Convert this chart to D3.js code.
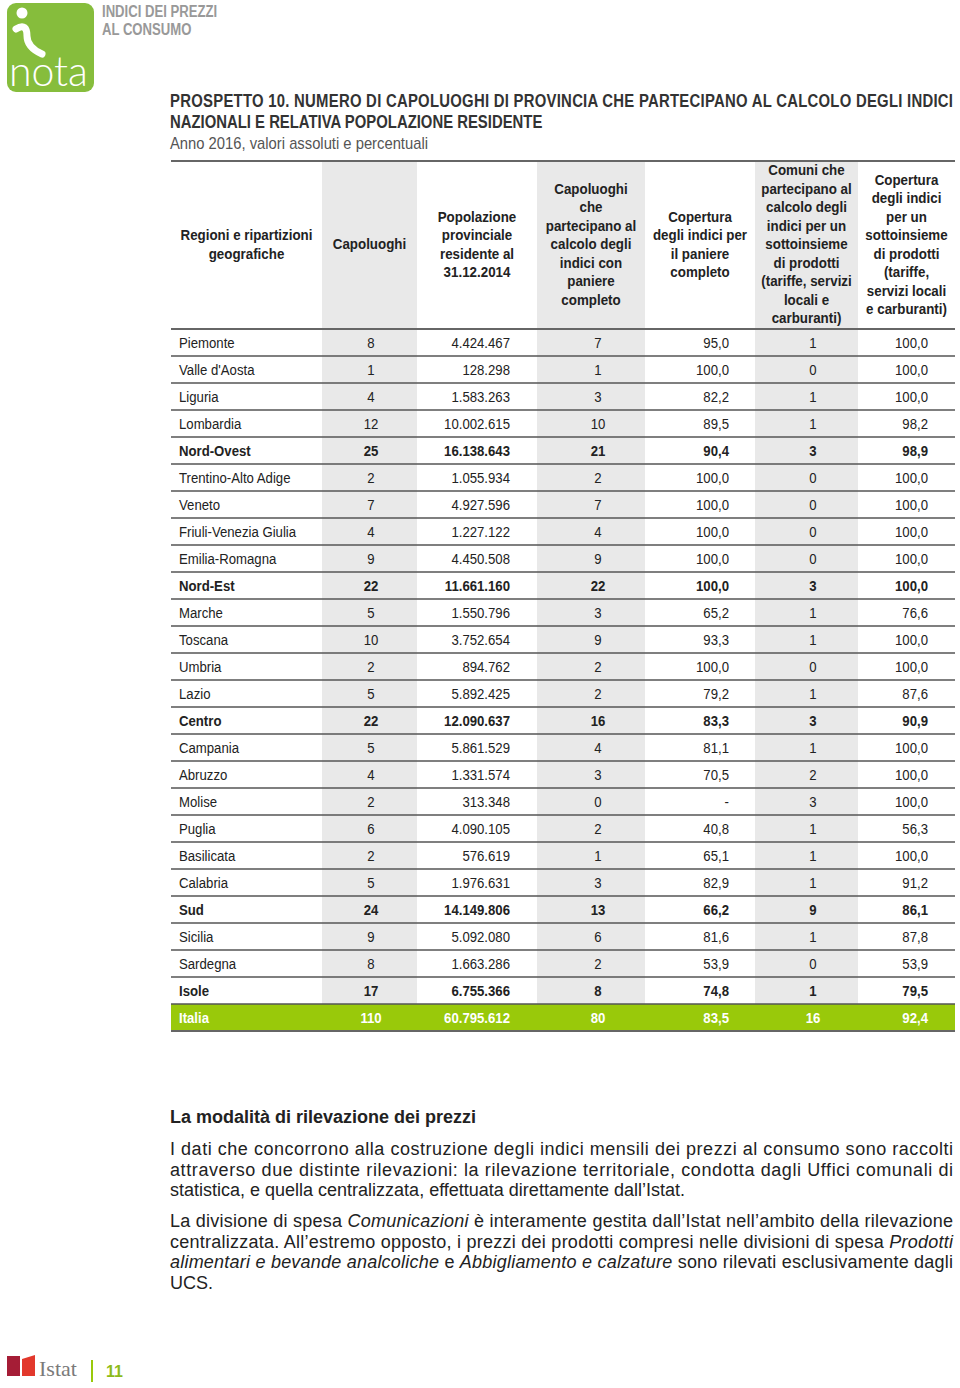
<!DOCTYPE html>
<html>
<head>
<meta charset="utf-8">
<script src="https://cdn.jsdelivr.net/npm/d3@7"></script>
<style>
  body { margin: 0; background: #fff; }
  svg { display: block; }
  .narrow { font-family: "Liberation Sans", Arial, sans-serif; }
</style>
</head>
<body>
<svg id="pagina" width="960" height="1388"></svg>
<script>
// Dati del prospetto 10
var regioni = ["Piemonte", "Valle d'Aosta", "Liguria", "Lombardia", "Nord-Ovest",
  "Trentino-Alto Adige", "Veneto", "Friuli-Venezia Giulia", "Emilia-Romagna", "Nord-Est",
  "Marche", "Toscana", "Umbria", "Lazio", "Centro",
  "Campania", "Abruzzo", "Molise", "Puglia", "Basilicata", "Calabria", "Sud",
  "Sicilia", "Sardegna", "Isole", "Italia"];
var ripartizioni = ["Nord-Ovest", "Nord-Est", "Centro", "Sud", "Isole", "Italia"];
var capoluoghi = [8, 1, 4, 12, 25, 2, 7, 4, 9, 22, 5, 10, 2, 5, 22, 5, 4, 2, 6, 2, 5, 24, 9, 8, 17, 110];
var popolazione = [4424467, 128298, 1583263, 10002615, 16138643, 1055934, 4927596, 1227122, 4450508, 11661160,
  1550796, 3752654, 894762, 5892425, 12090637, 5861529, 1331574, 313348, 4090105, 576619, 1976631, 14149806,
  5092080, 1663286, 6755366, 60795612];
var capPaniere = [7, 1, 3, 10, 21, 2, 7, 4, 9, 22, 3, 9, 2, 2, 16, 4, 3, 0, 2, 1, 3, 13, 6, 2, 8, 80];
var coperturaPaniere = [95.0, 100.0, 82.2, 89.5, 90.4, 100.0, 100.0, 100.0, 100.0, 100.0, 65.2, 93.3, 100.0, 79.2, 83.3,
  81.1, 70.5, null, 40.8, 65.1, 82.9, 66.2, 81.6, 53.9, 74.8, 83.5];
var comuniSott = [1, 0, 1, 1, 3, 0, 0, 0, 0, 3, 1, 1, 0, 1, 3, 1, 2, 3, 1, 1, 1, 9, 1, 0, 1, 16];
var coperturaSott = [100.0, 100.0, 100.0, 98.2, 98.9, 100.0, 100.0, 100.0, 100.0, 100.0, 76.6, 100.0, 100.0, 87.6, 90.9,
  100.0, 100.0, 100.0, 56.3, 100.0, 91.2, 86.1, 87.8, 53.9, 79.5, 92.4];

var intestazioni = [
  ["Regioni e ripartizioni", "geografiche"],
  ["Capoluoghi"],
  ["Popolazione", "provinciale", "residente al", "31.12.2014"],
  ["Capoluoghi", "che", "partecipano al", "calcolo degli", "indici con", "paniere", "completo"],
  ["Copertura", "degli indici per", "il paniere", "completo"],
  ["Comuni che", "partecipano al", "calcolo degli", "indici per un", "sottoinsieme", "di prodotti", "(tariffe, servizi", "locali e", "carburanti)"],
  ["Copertura", "degli indici", "per un", "sottoinsieme", "di prodotti", "(tariffe,", "servizi locali", "e carburanti)"]
];

var titolo = ["PROSPETTO 10. NUMERO DI CAPOLUOGHI DI PROVINCIA CHE PARTECIPANO AL CALCOLO DEGLI INDICI",
  "NAZIONALI E RELATIVA POPOLAZIONE RESIDENTE"];
var sottotitolo = "Anno 2016, valori assoluti e percentuali";

var paragrafoTitolo = "La modalità di rilevazione dei prezzi";
var paragrafo1 = [
  [["I dati che concorrono alla costruzione degli indici mensili dei prezzi al consumo sono raccolti", 0]],
  [["attraverso due distinte rilevazioni: la rilevazione territoriale, condotta dagli Uffici comunali di", 0]],
  [["statistica, e quella centralizzata, effettuata direttamente dall\u2019Istat.", 0]]
];
var paragrafo2 = [
  [["La divisione di spesa ", 0], ["Comunicazioni", 1], [" è interamente gestita dall\u2019Istat nell\u2019ambito della rilevazione", 0]],
  [["centralizzata. All\u2019estremo opposto, i prezzi dei prodotti compresi nelle divisioni di spesa ", 0], ["Prodotti", 1]],
  [["alimentari e bevande analcoliche", 1], [" e ", 0], ["Abbigliamento e calzature", 1], [" sono rilevati esclusivamente dagli", 0]],
  [["UCS.", 0]]
];

// Formato italiano
var it = d3.formatLocale({ decimal: ",", thousands: ".", grouping: [3], currency: ["€", ""] });
var fInt = it.format(",d");
var fPerc = function(v) { return v == null ? "-" : it.format(",.1f")(v); };

var svg = d3.select("#pagina");
var verde = "#99c90a";

// testo "narrow": Liberation Sans schiacciato in orizzontale (simula Arial Narrow)
function narrow(parent, x, y, str, anchor, k) {
  return parent.append("text")
    .attr("class", "narrow")
    .attr("transform", "translate(" + x + "," + y + ") scale(" + k + ",1)")
    .attr("text-anchor", anchor || "start")
    .text(str);
}

// ---- testata con logo
var logo = svg.append("g");
logo.append("rect").attr("x", 7).attr("y", 3).attr("width", 87).attr("height", 89).attr("rx", 9).attr("fill", "#86bd3c");
logo.append("circle").attr("cx", 22).attr("cy", 13).attr("r", 5.5).attr("fill", "#fff");
logo.append("path")
  .attr("d", "M16,29 C24,24 27,28 27,36 C27,44 33,50 42,54")
  .attr("fill", "none").attr("stroke", "#fff").attr("stroke-width", 7).attr("stroke-linecap", "round");
logo.append("text").attr("x", 9).attr("y", 86)
  .style("font-family", "Lato, 'Open Sans', sans-serif").style("font-weight", 300)
  .style("font-size", "41px").attr("fill", "#fff").text("nota");

["INDICI DEI PREZZI", "AL CONSUMO"].forEach(function(s, i) {
  narrow(svg, 102, 17 + i * 18, s, "start", 0.82).style("font-size", "16px").style("font-weight", "bold").attr("fill", "#999");
});

// ---- titolo
titolo.forEach(function(s, i) {
  var t = narrow(svg, 170, 107 + i * 21, s, "start", 0.85)
    .style("font-size", "17.5px").style("font-weight", "bold").attr("fill", "#333");
  if (i === 0) t.attr("textLength", 783 / 0.85).attr("lengthAdjust", "spacing");
});
narrow(svg, 170, 149, sottotitolo, "start", 0.87).style("font-size", "17px").attr("fill", "#555");

// ---- tabella
var sx = 171, dx = 955;
var bordi = [171, 322, 417, 537, 645, 755, 858, 955];
var grigi = [1, 3, 5];
var allinea = [
  { anchor: "start", x: 179 },
  { anchor: "middle", x: 371 },
  { anchor: "end", x: 510 },
  { anchor: "middle", x: 598 },
  { anchor: "end", x: 729 },
  { anchor: "middle", x: 813 },
  { anchor: "end", x: 928 }
];
var topTab = 161, fineHead = 329, altRiga = 27;

var y = d3.scaleBand().domain(regioni).range([fineHead, fineHead + altRiga * regioni.length]);

var tab = svg.append("g");

// colonne grigie
tab.selectAll(".grigio").data(grigi).enter().append("rect")
  .attr("x", function(c) { return bordi[c]; })
  .attr("y", topTab)
  .attr("width", function(c) { return bordi[c + 1] - bordi[c]; })
  .attr("height", y.range()[1] - topTab)
  .attr("fill", "#e9e9e9");

// riga Italia
tab.append("rect").attr("x", sx).attr("y", y("Italia")).attr("width", dx - sx).attr("height", y.bandwidth())
  .attr("fill", verde);

// intestazioni
var centroHead = (topTab + fineHead) / 2 - 1;
intestazioni.forEach(function(righe, c) {
  var cx = (bordi[c] + bordi[c + 1]) / 2;
  righe.forEach(function(s, i) {
    narrow(tab, cx, centroHead + (i - (righe.length - 1) / 2) * 18.5 + 5.3, s, "middle", 0.89)
      .style("font-size", "15px").style("font-weight", "bold").attr("fill", "#222");
  });
});

// righe
var colonne = [
  function(i) { return regioni[i]; },
  function(i) { return fInt(capoluoghi[i]); },
  function(i) { return fInt(popolazione[i]); },
  function(i) { return fInt(capPaniere[i]); },
  function(i) { return fPerc(coperturaPaniere[i]); },
  function(i) { return fInt(comuniSott[i]); },
  function(i) { return fPerc(coperturaSott[i]); }
];

var righe = tab.selectAll(".riga").data(regioni).enter().append("g")
  .attr("class", "riga")
  .attr("transform", function(d) { return "translate(0," + (y(d) + y.bandwidth() / 2 + 5.5) + ")"; });

colonne.forEach(function(fn, c) {
  righe.append("text")
    .attr("class", "narrow")
    .attr("transform", "translate(" + allinea[c].x + ",0) scale(0.85,1)")
    .attr("text-anchor", allinea[c].anchor)
    .style("font-size", "15.5px")
    .style("font-weight", function(d) { return ripartizioni.indexOf(d) >= 0 ? "bold" : "normal"; })
    .attr("fill", function(d) { return d === "Italia" ? "#fff" : "#222"; })
    .text(function(d) { return fn(regioni.indexOf(d)); });
});

// linee
tab.selectAll(".sep").data(regioni.slice(1)).enter().append("line")
  .attr("x1", sx).attr("x2", dx)
  .attr("y1", function(d) { return y(d); }).attr("y2", function(d) { return y(d); })
  .attr("stroke", "#555").attr("stroke-width", 1.3);
[topTab, fineHead, y.range()[1]].forEach(function(yy) {
  tab.append("line").attr("x1", sx).attr("x2", dx).attr("y1", yy).attr("y2", yy)
    .attr("stroke", "#666").attr("stroke-width", 2);
});

// ---- testo
var testo = svg.append("g");
narrow(testo, 170, 1123, paragrafoTitolo, "start", 1)
  .style("font-size", "18px").style("font-weight", "bold").attr("fill", "#222");

function scriviParagrafo(linee, y0) {
  linee.forEach(function(seg, i) {
    var t = narrow(testo, 170, y0 + i * 20.7, null, "start", 1)
      .style("font-size", "18px").attr("fill", "#222");
    if (i < linee.length - 1) t.attr("textLength", 783).attr("lengthAdjust", "spacing");
    t.selectAll("tspan").data(seg).enter().append("tspan")
      .style("font-style", function(d) { return d[1] ? "italic" : "normal"; })
      .text(function(d) { return d[0]; });
  });
}
scriviParagrafo(paragrafo1, 1155);
scriviParagrafo(paragrafo2, 1227);

// ---- piè di pagina
var piede = svg.append("g");
piede.append("rect").attr("x", 7).attr("y", 1356).attr("width", 13).attr("height", 20).attr("fill", "#a51d36");
piede.append("path").attr("d", "M22,1359 L35,1355 L35,1376 L22,1376 Z").attr("fill", "#e2382c");
piede.append("text").attr("x", 39).attr("y", 1376)
  .style("font-family", "'Liberation Serif', 'DejaVu Serif', serif").style("font-size", "22px")
  .attr("fill", "#7a7a7a").text("Istat");
piede.append("rect").attr("x", 91).attr("y", 1360).attr("width", 2).attr("height", 22).attr("fill", verde);
piede.append("text").attr("x", 106).attr("y", 1377)
  .style("font-family", "'Liberation Sans', Arial, sans-serif").style("font-size", "16px").style("font-weight", "bold")
  .attr("fill", "#8dbb1a").text("11");
</script>
</body>
</html>
